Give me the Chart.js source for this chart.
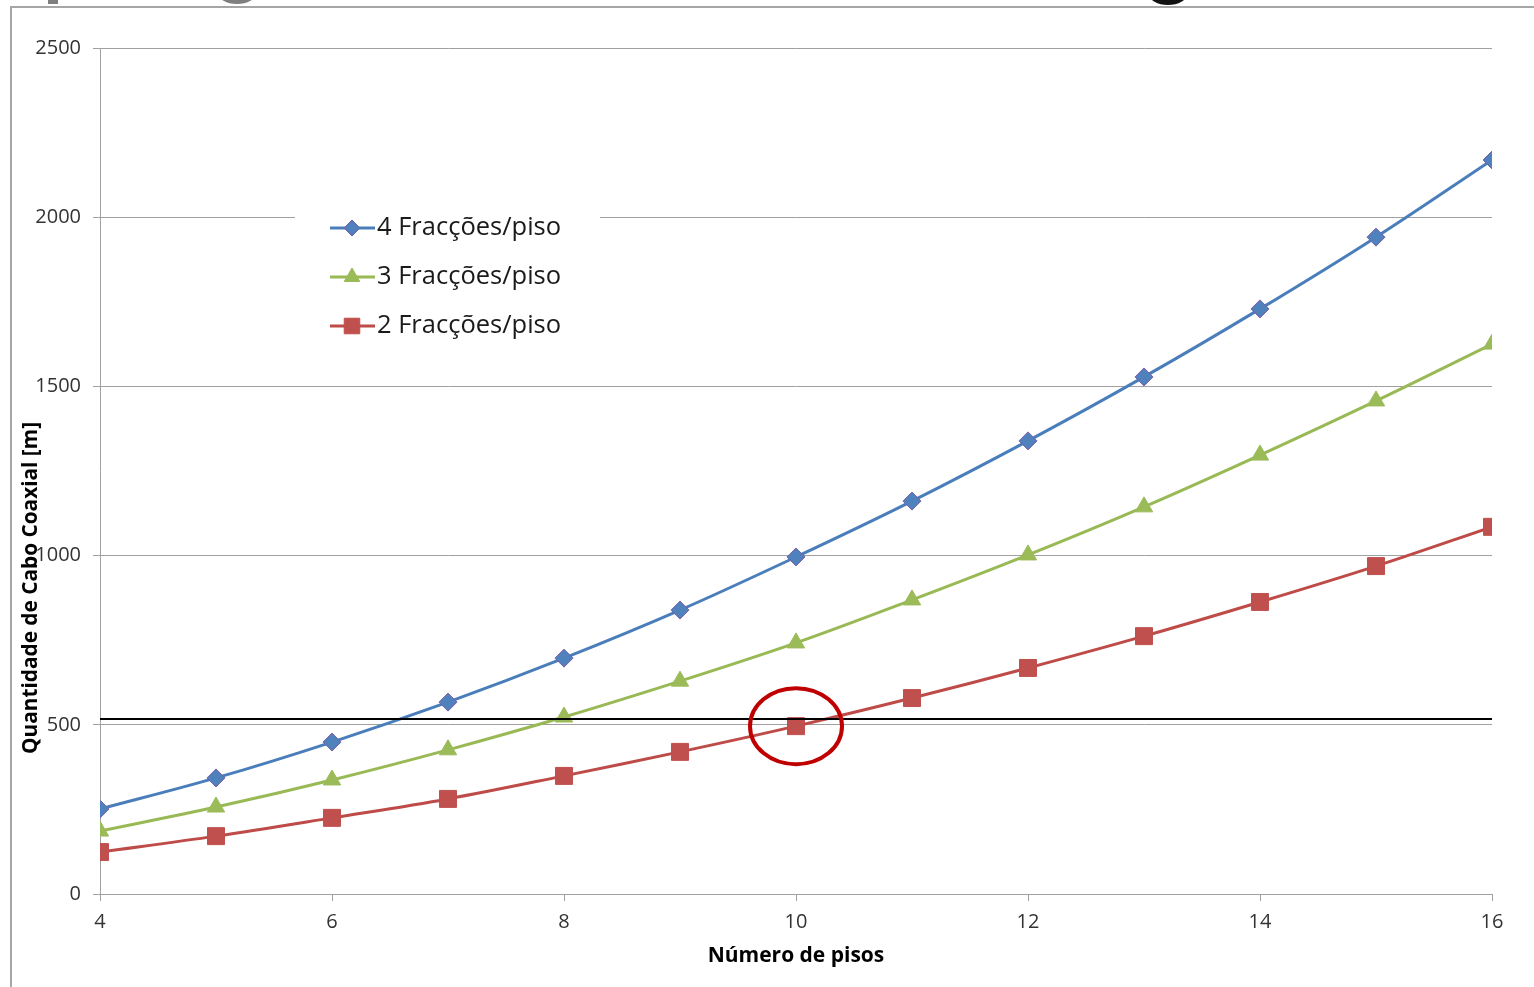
<!DOCTYPE html>
<html>
<head>
<meta charset="utf-8">
<script src="https://cdn.jsdelivr.net/npm/chart.js@4.4.1/dist/chart.umd.min.js"></script>
<style>
  html, body { margin: 0; padding: 0; background: #ffffff; }
  #wrap { position: relative; width: 1534px; height: 987px; }
  canvas { display: block; }
</style>
</head>
<body>
<div id="wrap"><canvas id="c" width="1534" height="987"></canvas></div>
<script>
// ---- Data ----
const pisos = [4, 5, 6, 7, 8, 9, 10, 11, 12, 13, 14, 15, 16];
const frac4 = [251, 343, 449, 567, 697, 839, 996, 1161, 1339, 1528, 1729, 1941, 2169];
const frac3 = [186, 257, 337, 426, 523, 629, 742, 869, 1002, 1144, 1297, 1457, 1625];
const frac2 = [124, 171, 225, 281, 349, 420, 496, 579, 668, 762, 863, 969, 1085];
const seriesLabels = ['4 Fracções/piso', '3 Fracções/piso', '2 Fracções/piso'];
const yTicks = [0, 500, 1000, 1500, 2000, 2500];
const xTicks = [4, 6, 8, 10, 12, 14, 16];
const refLineValue = 517;           // horizontal black reference line
const highlight = { x: 10, y: 496 }; // red circled point

const FONT = "'Open Sans', 'DejaVu Sans', sans-serif";

const decorPlugin = {
  id: 'decor',
  beforeDraw(chart) {
    const ctx = chart.ctx;
    ctx.save();
    ctx.fillStyle = '#ffffff';
    ctx.fillRect(0, 0, chart.width, chart.height);
    // fragments of cut-off heading above the frame
    ctx.fillStyle = '#7f7f7f';
    ctx.fillRect(48, 0, 10, 4);
    ctx.beginPath(); ctx.ellipse(237, -7, 19, 11, 0, 0, Math.PI * 2); ctx.fill();
    ctx.fillStyle = '#111111';
    ctx.beginPath(); ctx.ellipse(1168, -6, 19, 11, 0, 0, Math.PI * 2); ctx.fill();
    // frame
    ctx.strokeStyle = '#a6a6a6';
    ctx.lineWidth = 2;
    ctx.beginPath();
    ctx.moveTo(11, chart.height);
    ctx.lineTo(11, 7);
    ctx.lineTo(chart.width, 7);
    ctx.stroke();
    ctx.restore();
  },
  afterDatasetsDraw(chart) {
    const ctx = chart.ctx;
    const xs = chart.scales.x, ys = chart.scales.y;
    const area = chart.chartArea;
    ctx.save();
    // reference line
    const yr = ys.getPixelForValue(refLineValue);
    ctx.strokeStyle = '#000000';
    ctx.lineWidth = 2;
    ctx.beginPath();
    ctx.moveTo(area.left, yr);
    ctx.lineTo(area.right, yr);
    ctx.stroke();
    // highlight ellipse
    const cx = xs.getPixelForValue(highlight.x), cy = ys.getPixelForValue(highlight.y);
    ctx.strokeStyle = '#c00000';
    ctx.lineWidth = 4;
    ctx.beginPath();
    ctx.ellipse(cx, cy, 46, 38, 0, 0, Math.PI * 2);
    ctx.stroke();

    // legend
    ctx.fillStyle = '#ffffff';
    ctx.fillRect(295, 198, 305, 152);
    const rows = [228, 277, 326];
    chart.data.datasets.forEach((ds, i) => {
      const y = rows[i];
      ctx.strokeStyle = ds.borderColor;
      ctx.lineWidth = 3;
      ctx.beginPath(); ctx.moveTo(330, y); ctx.lineTo(375, y); ctx.stroke();
      ctx.fillStyle = ds.pointBackgroundColor;
      ctx.strokeStyle = ds.pointBorderColor;
      ctx.lineWidth = 1;
      Chart.helpers.drawPoint(ctx, {
        pointStyle: ds.pointStyle, radius: ds.legendRadius, rotation: 0, borderWidth: 1
      }, 352, y);
      ctx.fillStyle = '#1a1a1a';
      ctx.font = "25.5px " + FONT;
      ctx.textAlign = 'left';
      ctx.textBaseline = 'middle';
      ctx.fillText(ds.label, 377, y);
    });

    // y axis title
    ctx.fillStyle = '#000000';
    ctx.font = "bold 20.8px " + FONT;
    ctx.textAlign = 'center';
    ctx.textBaseline = 'middle';
    ctx.translate(31, 588);
    ctx.rotate(-Math.PI / 2);
    ctx.fillText('Quantidade de Cabo Coaxial [m]', 0, 0);
    ctx.restore();
  }
};

new Chart(document.getElementById('c'), {
  type: 'line',
  data: {
    labels: pisos,
    datasets: [
      {
        label: seriesLabels[0], data: frac4,
        borderColor: '#4a7ebb', backgroundColor: '#4f81bd',
        pointStyle: 'rectRot', pointRadius: 9, legendRadius: 8,
        pointBackgroundColor: '#4f81bd', pointBorderColor: '#7a5fa8', pointBorderWidth: 1
      },
      {
        label: seriesLabels[1], data: frac3,
        borderColor: '#98b954', backgroundColor: '#9bbb59',
        pointStyle: 'triangle', pointRadius: 10, legendRadius: 9,
        pointBackgroundColor: '#9bbb59', pointBorderColor: '#9bbb59', pointBorderWidth: 1
      },
      {
        label: seriesLabels[2], data: frac2,
        borderColor: '#be4b48', backgroundColor: '#c0504d',
        pointStyle: 'rect', pointRadius: 12, legendRadius: 11,
        pointBackgroundColor: '#c0504d', pointBorderColor: '#c0504d', pointBorderWidth: 1
      }
    ]
  },
  options: {
    responsive: false,
    animation: false,
    devicePixelRatio: 1,
    layout: { padding: { left: 0, right: 42, top: 48, bottom: 0 } },
    elements: { line: { borderWidth: 3, tension: 0.35 } },
    plugins: { legend: { display: false }, tooltip: { enabled: false } },
    scales: {
      x: {
        type: 'linear', min: 4, max: 16,
        afterBuildTicks(scale) { scale.ticks = xTicks.map(v => ({ value: v })); },
        afterFit(scale) { scale.height = 93; },
        border: { display: true, color: '#a0a0a0', width: 1 },
        grid: { drawOnChartArea: false, drawTicks: true, tickLength: 7, color: '#a0a0a0' },
        ticks: { color: '#333333', font: { family: FONT, size: 20 }, padding: 9, maxRotation: 0,
                 callback: v => String(v) },
        title: {
          display: true, text: 'Número de pisos', color: '#000000',
          font: { family: FONT, size: 21, weight: 'bold' }, padding: { top: 0, bottom: 18 }
        }
      },
      y: {
        type: 'linear', min: 0, max: 2500,
        afterBuildTicks(scale) { scale.ticks = yTicks.map(v => ({ value: v })); },
        afterFit(scale) { scale.width = 100; },
        border: { display: true, color: '#a0a0a0', width: 1 },
        grid: { color: '#a0a0a0', lineWidth: 1, tickLength: 7 },
        ticks: { color: '#333333', font: { family: FONT, size: 20 }, padding: 12,
                 callback: v => String(v) }
      }
    }
  },
  plugins: [decorPlugin]
});
</script>
</body>
</html>
